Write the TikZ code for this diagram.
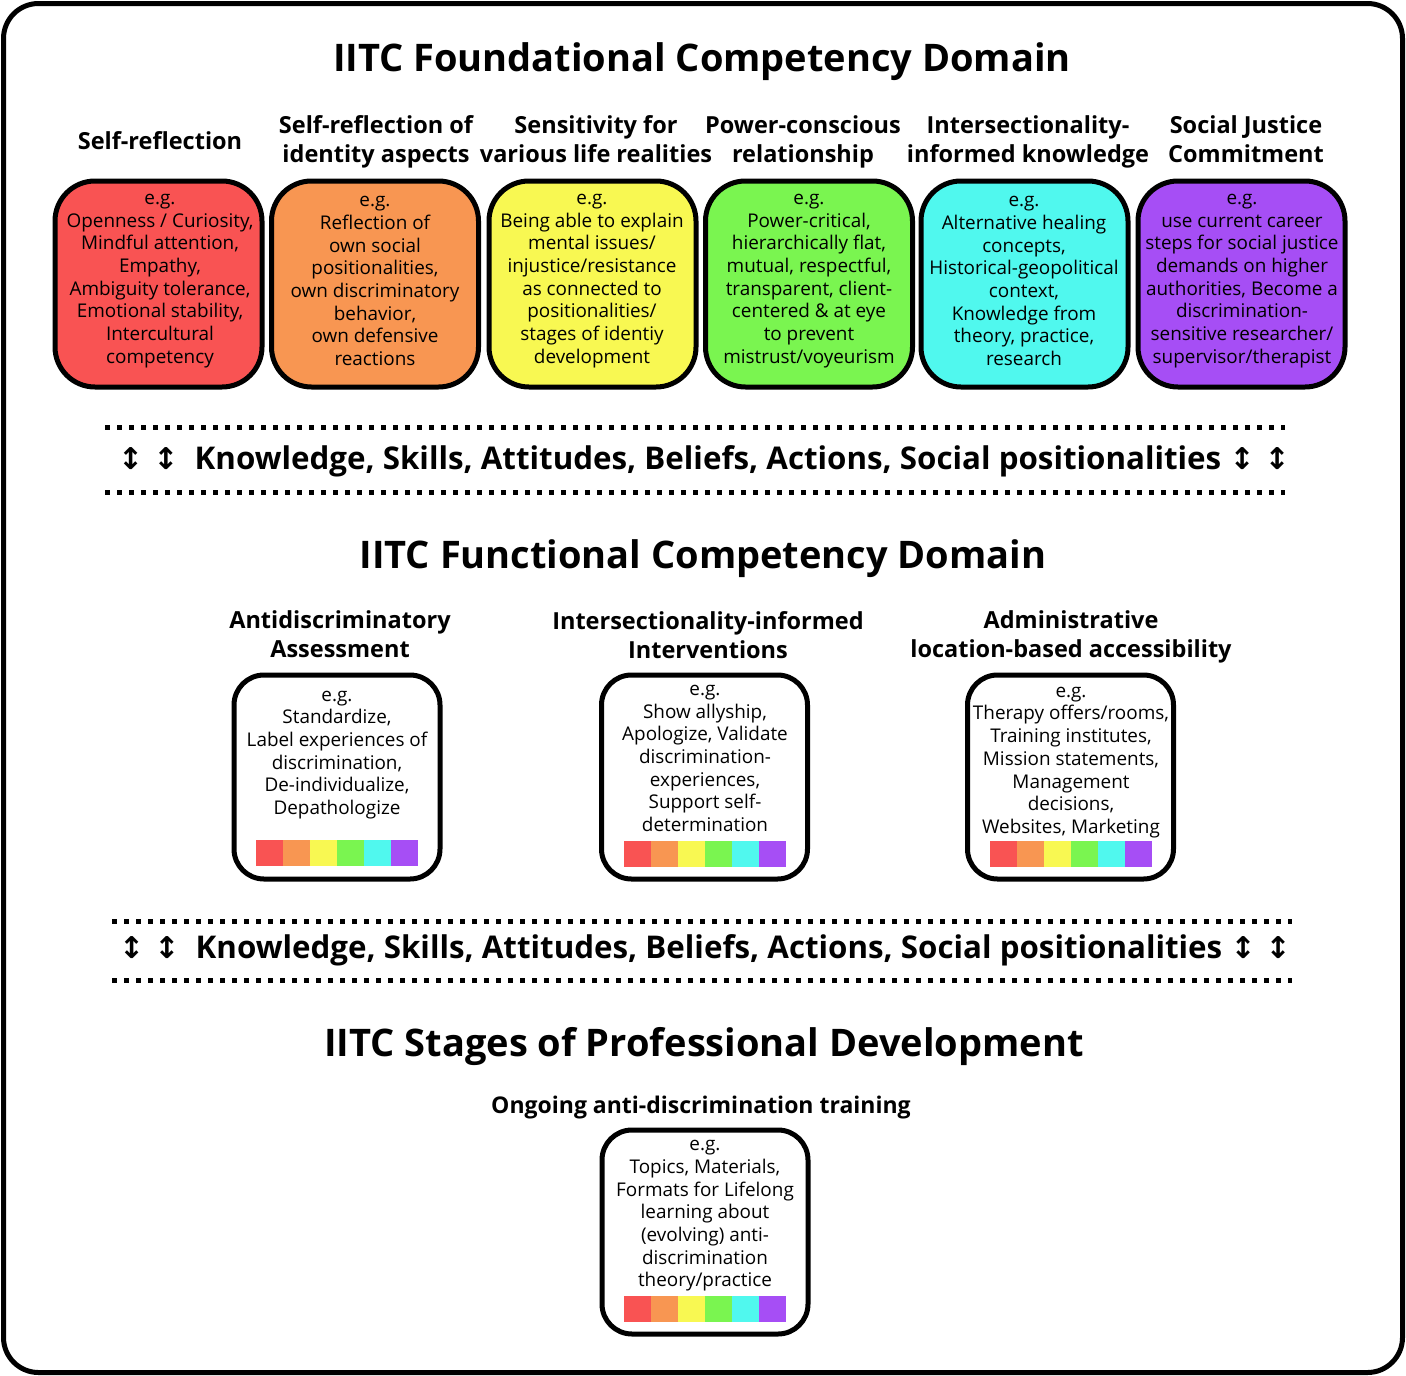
\documentclass[tikz,border=0pt]{standalone}
\usepackage{fontspec}
\setmainfont{Open Sans}
\newfontfamily\arrowfont{DejaVu Sans}
\definecolor{cred}{HTML}{F95353}
\definecolor{corange}{HTML}{F89652}
\definecolor{cyellow}{HTML}{F8F852}
\definecolor{cgreen}{HTML}{7AF550}
\definecolor{ccyan}{HTML}{50F8EE}
\definecolor{cpurple}{HTML}{A64EF5}
\newcommand{\udarr}{{\arrowfont\bfseries\fontsize{30}{30}\selectfont ↕\,\,↕}}
\begin{document}
\begin{tikzpicture}[x=1pt,y=-1pt,
  topbox/.style={draw=black, line width=5pt, rounded corners=40pt, minimum width=207pt, minimum height=206pt, inner sep=0pt},
  midbox/.style={draw=black, line width=5pt, fill=white, rounded corners=30pt, minimum width=206pt, minimum height=204pt, inner sep=0pt},
  boxtext/.style={align=center, inner sep=0pt, font=\fontsize{18.9}{22.7}\selectfont},
  hdr/.style={align=center, inner sep=0pt, font=\bfseries\fontsize{23.5}{29}\selectfont},
  maintitle/.style={inner sep=0pt, font=\bfseries\fontsize{38}{42}\selectfont},
  ksa/.style={inner sep=0pt, font=\bfseries\fontsize{31.3}{34}\selectfont},
  dotline/.style={line width=5pt, dash pattern=on 5pt off 7pt}
]
\useasboundingbox (0,0) rectangle (1406,1376);
\fill[white] (0,0) rectangle (1406,1376);
\draw[line width=5pt, rounded corners=35pt] (3.5,3.5) rectangle (1402.5,1372.5);

% ---------- Foundational ----------
\node[maintitle] (t1) at (702,62) {IITC Foundational Competency Domain};

\node[hdr] (h1) at (160,141) {Self-reflection};
\node[hdr] (h2) at (376,142) {Self-reflection of\\identity aspects};
\node[hdr] (h3) at (596,139) {Sensitivity for\\various life realities};
\node[hdr] (h4) at (803,142) {Power-conscious\\relationship};
\node[hdr] (h5) at (1028,142) {Intersectionality-\\informed knowledge};
\node[hdr] (h6) at (1246,139) {Social Justice\\Commitment};

\node[topbox, fill=cred]    (b1) at (158.5,284) {};
\node[topbox, fill=corange] (b2) at (375,284) {};
\node[topbox, fill=cyellow] (b3) at (592.5,284) {};
\node[topbox, fill=cgreen]  (b4) at (809,284) {};
\node[topbox, fill=ccyan]   (b5) at (1024.5,284) {};
\node[topbox, fill=cpurple] (b6) at (1241.5,284) {};

\node[boxtext] (x1) at (160,281) {e.g.\\Openness / Curiosity,\\Mindful attention,\\Empathy,\\Ambiguity tolerance,\\Emotional stability,\\Intercultural\\competency};
\node[boxtext] (x2) at (375,281) {e.g.\\Reflection of\\own social\\positionalities,\\own discriminatory\\behavior,\\own defensive\\reactions};
\node[boxtext] (x3) at (592,281) {e.g.\\Being able to explain\\mental issues/\\injustice/resistance\\as connected to\\positionalities/\\stages of identiy\\development};
\node[boxtext] (x4) at (809,281) {e.g.\\Power-critical,\\hierarchically flat,\\mutual, respectful,\\transparent, client-\\centered \& at eye\\to prevent\\mistrust/voyeurism};
\node[boxtext] (x5) at (1024,281) {e.g.\\Alternative healing\\concepts,\\Historical-geopolitical\\context,\\Knowledge from\\theory, practice,\\research};
\node[boxtext] (x6) at (1242,281) {e.g.\\use current career\\steps for social justice\\demands on higher\\authorities, Become a\\discrimination-\\sensitive researcher/\\supervisor/therapist};

% ---------- KSA band 1 ----------
\coordinate (d1a) at (105,427); \coordinate (d1b) at (1285,427);
\coordinate (d2a) at (105,492); \coordinate (d2b) at (1285,492);
\draw[dotline] (d1a) -- (d1b);
\draw[dotline] (d2a) -- (d2b);
\node[ksa] (k1) at (704,461) {\udarr\ \ Knowledge, Skills, Attitudes, Beliefs, Actions, Social positionalities \udarr};

% ---------- Functional ----------
\node[maintitle] (t2) at (703,559) {IITC Functional Competency Domain};

\node[hdr] (m1h) at (340,634) {Antidiscriminatory\\Assessment};
\node[hdr] (m2h) at (708,635) {Intersectionality-informed\\Interventions};
\node[hdr] (m3h) at (1071,637) {Administrative\\location-based accessibility};

\node[midbox] (m1) at (337,777) {};
\node[midbox] (m2) at (704.5,777) {};
\node[midbox] (m3) at (1070.5,777) {};

\node[boxtext] (m1t) at (337,755) {e.g.\\Standardize,\\Label experiences of\\discrimination,\\De-individualize,\\Depathologize};
\node[boxtext] (m2t) at (705,758.5) {e.g.\\Show allyship,\\Apologize, Validate\\discrimination-\\experiences,\\Support self-\\determination};
\node[boxtext] (m3t) at (1071,762.5) {e.g.\\Therapy offers/rooms,\\Training institutes,\\Mission statements,\\Management\\decisions,\\Websites, Marketing};

\foreach \x/\y in {256/840, 624/841, 990/841}{
  \foreach \c [count=\i from 0] in {cred,corange,cyellow,cgreen,ccyan,cpurple}{
    \fill[\c] (\x+27*\i,\y) rectangle (\x+27*\i+27,\y+26);
  }
}

% ---------- KSA band 2 ----------
\coordinate (e1a) at (112,921); \coordinate (e1b) at (1292,921);
\coordinate (e2a) at (112,980); \coordinate (e2b) at (1292,980);
\draw[dotline] (e1a) -- (e1b);
\draw[dotline] (e2a) -- (e2b);
\node[ksa] (k2) at (705,950) {\udarr\ \ Knowledge, Skills, Attitudes, Beliefs, Actions, Social positionalities \udarr};

% ---------- Stages ----------
\node[maintitle] (t3) at (704,1047) {IITC Stages of Professional Development};
\node[hdr, font=\bfseries\fontsize{23}{29}\selectfont] (s1h) at (701,1108) {Ongoing anti-discrimination training};
\node[midbox] (s1) at (705,1232) {};
\node[boxtext] (s1t) at (705,1216) {e.g.\\Topics, Materials,\\Formats for Lifelong\\learning about\\(evolving) anti-\\discrimination\\theory/practice};
\foreach \c [count=\i from 0] in {cred,corange,cyellow,cgreen,ccyan,cpurple}{
  \fill[\c] (624+27*\i,1296) rectangle (624+27*\i+27,1322);
}
\end{tikzpicture}
\end{document}
